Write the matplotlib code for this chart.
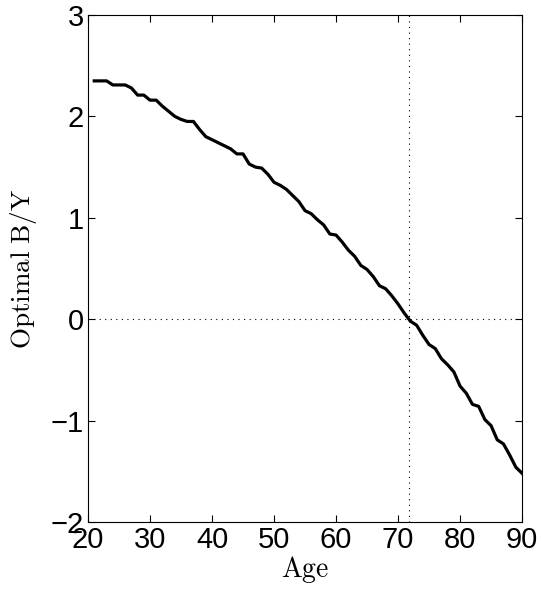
import numpy as np
import matplotlib
matplotlib.use("Agg")
import matplotlib.pyplot as plt

plt.rcParams['font.family'] = ['Liberation Sans', 'DejaVu Sans']
plt.rcParams['mathtext.fontset'] = 'cm'

age = np.arange(21, 91)
by = [2.35, 2.35, 2.35, 2.31, 2.31, 2.31, 2.28, 2.21, 2.21, 2.16,
      2.16, 2.10, 2.05, 2.00, 1.97, 1.95, 1.95, 1.87, 1.80, 1.77,
      1.74, 1.71, 1.68, 1.63, 1.63, 1.53, 1.50, 1.49, 1.43, 1.35,
      1.32, 1.28, 1.22, 1.16, 1.07, 1.04, 0.98, 0.93, 0.84, 0.83,
      0.76, 0.68, 0.62, 0.53, 0.49, 0.42, 0.33, 0.30, 0.23, 0.15,
      0.06, -0.02, -0.06, -0.16, -0.25, -0.29, -0.39, -0.45, -0.52, -0.66,
      -0.73, -0.84, -0.86, -0.99, -1.05, -1.19, -1.23, -1.34, -1.46, -1.52]
cross_age = 71.8
xticks = [20, 30, 40, 50, 60, 70, 80, 90]
yticks = [-2, -1, 0, 1, 2, 3]

fig = plt.figure(figsize=(5.41, 5.90), dpi=100)
ax = fig.add_axes([0.1627, 0.1153, 0.8023, 0.8593])

ax.axhline(0, color='black', lw=0.8, ls=(0, (1, 4)))
ax.axvline(cross_age, color='black', lw=0.8, ls=(0, (1, 4)))
ax.plot(age, by, color='black', lw=2.3)

ax.set_xlim(20, 90)
ax.set_ylim(-2, 3)
ax.set_xticks(xticks)
ax.set_yticks(yticks)
ax.set_yticklabels(['\u22122', '\u22121', '0', '1', '2', '3'])
ax.tick_params(direction='in', length=5, width=0.8, labelsize=21,
               top=True, right=True, pad=3)
for s in ax.spines.values():
    s.set_linewidth(0.8)

ax.set_xlabel(r'$\mathrm{Age}$', fontsize=20, labelpad=0)
ax.set_ylabel(r'$\mathrm{Optimal\ B/Y}$', fontsize=19.5, labelpad=8)

fig.savefig('out.png', dpi=100)
